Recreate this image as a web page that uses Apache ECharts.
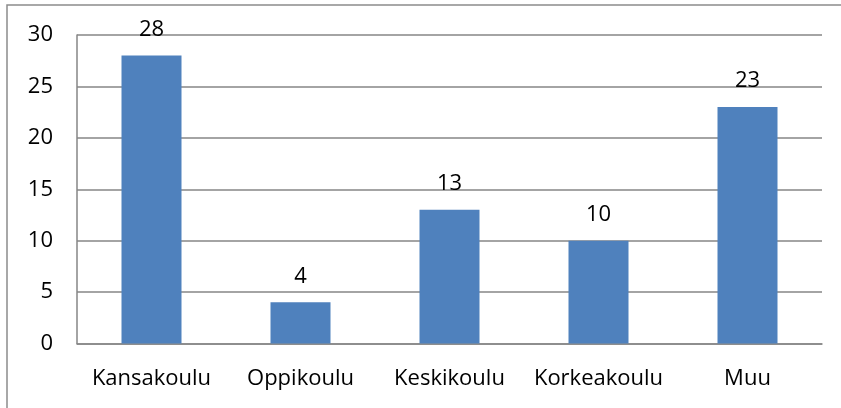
<!DOCTYPE html>
<html>
<head>
<meta charset="utf-8">
<script src="https://cdn.jsdelivr.net/npm/echarts@6/dist/echarts.min.js"></script>
<style>html,body{margin:0;padding:0;background:#fff}#c{width:841px;height:408px}</style>
</head>
<body>
<div id="c"></div>
<script>
const categories = ['Kansakoulu', 'Oppikoulu', 'Keskikoulu', 'Korkeakoulu', 'Muu'];
const values = [28, 4, 13, 10, 23];
const yTicks = [0, 5, 10, 15, 20, 25, 30];

const chart = echarts.init(document.getElementById('c'), null, {renderer: 'canvas'});
const font = '"Open Sans", "Liberation Sans", sans-serif';
chart.setOption({
  animation: false,
  backgroundColor: '#fff',
  graphic: [{
    type: 'rect',
    shape: {x: 7, y: 5, width: 900, height: 500},
    style: {fill: 'none', stroke: '#8c8c8c', lineWidth: 1.5},
    silent: true, z: -1
  }],
  grid: {left: 77, right: 19, top: 35, bottom: 64.5, containLabel: false},
  xAxis: {
    type: 'category',
    data: categories,
    axisLine: {show: true, lineStyle: {color: '#868686', width: 1.5}},
    axisTick: {show: false},
    axisLabel: {color: '#000', fontFamily: font, fontSize: 22, margin: 24, interval: 0}
  },
  yAxis: {
    type: 'value',
    min: yTicks[0], max: yTicks[yTicks.length - 1], interval: 5,
    axisLine: {show: true, lineStyle: {color: '#868686', width: 1.5}},
    axisTick: {show: false},
    splitLine: {show: true, lineStyle: {color: '#868686', width: 1.5}},
    axisLabel: {color: '#000', fontFamily: font, fontSize: 22, margin: 24}
  },
  series: [{
    type: 'bar',
    data: values,
    barWidth: 60,
    itemStyle: {color: '#4F81BD'},
    label: {show: true, position: 'top', distance: 15, color: '#000', fontFamily: font, fontSize: 22}
  }]
});
</script>
</body>
</html>
